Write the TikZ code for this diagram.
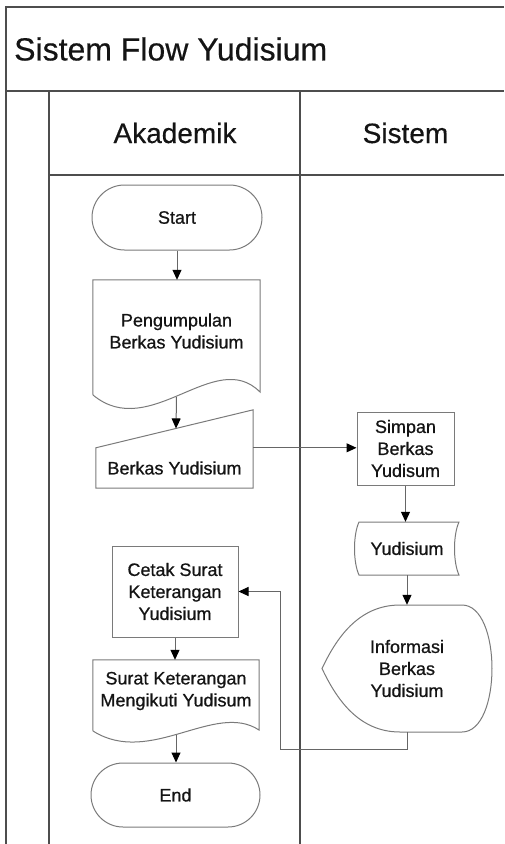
\documentclass[tikz,border=0pt]{standalone}
\usepackage{fontspec}
\setmainfont{Liberation Sans}
\newfontfamily\flowfont{Liberation Sans}[FakeBold=0.7]
\newfontfamily\headfont{Liberation Sans}[FakeBold=0.4]
\usetikzlibrary{arrows.meta,shapes.misc,calc}
\definecolor{poolline}{HTML}{4D4D4D}
\definecolor{shapeline}{HTML}{7A7A7A}
\definecolor{flowline}{HTML}{666666}
\definecolor{ink}{HTML}{141414}
\begin{document}
\begin{tikzpicture}[x=1pt,y=-1pt,
  pool/.style={draw=poolline,line width=1.4pt},
  outline/.style={draw=shapeline,line width=1pt},
  flowtext/.style={text=ink,font=\flowfont\fontsize{18}{22}\selectfont,align=center,inner sep=0pt},
  terminal/.style={flowtext,rounded rectangle,outline},
  process/.style={flowtext,rectangle,outline},
  plain/.style={flowtext,draw=none},
  flow/.style={draw=flowline,line width=1pt,-{Triangle[length=10pt,width=9pt,color=black]}},
  headtext/.style={text=ink,inner sep=0pt,font=\headfont\fontsize{28}{32}\selectfont},
]
\useasboundingbox (0,0) rectangle (504,844);

% pool frame, title bar and lanes
\draw[pool] (504,7) -- (6,7) -- (6,844);
\draw[pool] (6,91) -- (504,91);
\draw[pool] (49,91) -- (49,844);
\draw[pool] (49,175) -- (504,175);
\draw[pool] (300,91) -- (300,844);

\node[anchor=west,inner sep=0pt,text=ink,font=\headfont\fontsize{32}{38}\selectfont] (title) at (14,49) {Sistem Flow Yudisium};
\node[headtext] (laneA) at (175,133) {Akademik};
\node[headtext] (laneS) at (405.5,133) {Sistem};

% Akademik lane
\node[terminal,minimum width=170pt,minimum height=65pt] (start) at (177,217.5) {Start};

\node[plain,minimum width=167pt,minimum height=102pt] (doc1) at (176.5,331) {Pengumpulan\\Berkas Yudisium};
\draw[outline] (93,395) -- (doc1.north west) -- (doc1.north east) -- (260,392)
  .. controls (215,346.7) and (150,442.3) .. cycle;
\coordinate (doc1out) at (176.5,397);

\node[plain,minimum width=157pt,minimum height=40pt] (mi) at (174.5,468) {Berkas Yudisium};
\coordinate (mitr) at ($(mi.north east)+(0,-38)$);
\draw[outline] (mi.south west) -- (mi.north west) -- (mitr) -- (mi.south east) -- cycle;
\coordinate (mitop) at ($(mi.north west)!0.5096!(mitr)$);

\node[process,minimum width=126pt,minimum height=91pt] (cetak) at (175,591.5) {Cetak Surat\\Keterangan\\Yudisium};

\node[plain,minimum width=166pt,minimum height=62pt] (doc2) at (176,691) {Surat Keterangan\\Mengikuti Yudisum};
\draw[outline] (93,731) -- (doc2.north west) -- (doc2.north east) -- (259,730)
  .. controls (215,701) and (150,767) .. cycle;
\coordinate (doc2out) at (176,735);

\node[terminal,minimum width=169pt,minimum height=64pt] (stop) at (175.5,795) {End};

% Sistem lane
\node[process,minimum width=97pt,minimum height=73pt] (simpan) at (405.5,448.5) {Simpan\\Berkas\\Yudisum};

\node[plain,minimum width=104pt,minimum height=53pt] (sd) at (407,548.5) {Yudisium};
\draw[outline] (359,522) -- (459,522) .. controls (453,535) and (453,562) .. (459,575)
  -- (359,575) .. controls (353,562) and (353,535) .. cycle;

\node[plain,minimum width=170pt,minimum height=127pt] (disp) at (407,668.5) {Informasi\\Berkas\\Yudisium};
\draw[outline] (400,605) -- (462,605) .. controls (502,605) and (502,732) .. (462,732)
  -- (400,732) .. controls (358,732) and (336,698) .. (322,668.5)
  .. controls (336,639) and (358,605) .. cycle;

% connectors
\draw[flow] (start.south) -- (start.south |- doc1.north);
\draw[flow] (doc1out) -- (mitop);
\draw[flow] (mi.north east) -- (mi.north east -| simpan.west);
\draw[flow] (simpan.south) -- (simpan.south |- sd.north);
\draw[flow] (sd.south) -- (sd.south |- disp.north);
\draw[flow] (disp.south) -- ++(0,17) -| ([xshift=42pt]cetak.east) -- (cetak.east);
\draw[flow] (cetak.south) -- (cetak.south |- doc2.north);
\draw[flow] (doc2out) -- (doc2out |- stop.north);
\end{tikzpicture}
\end{document}
